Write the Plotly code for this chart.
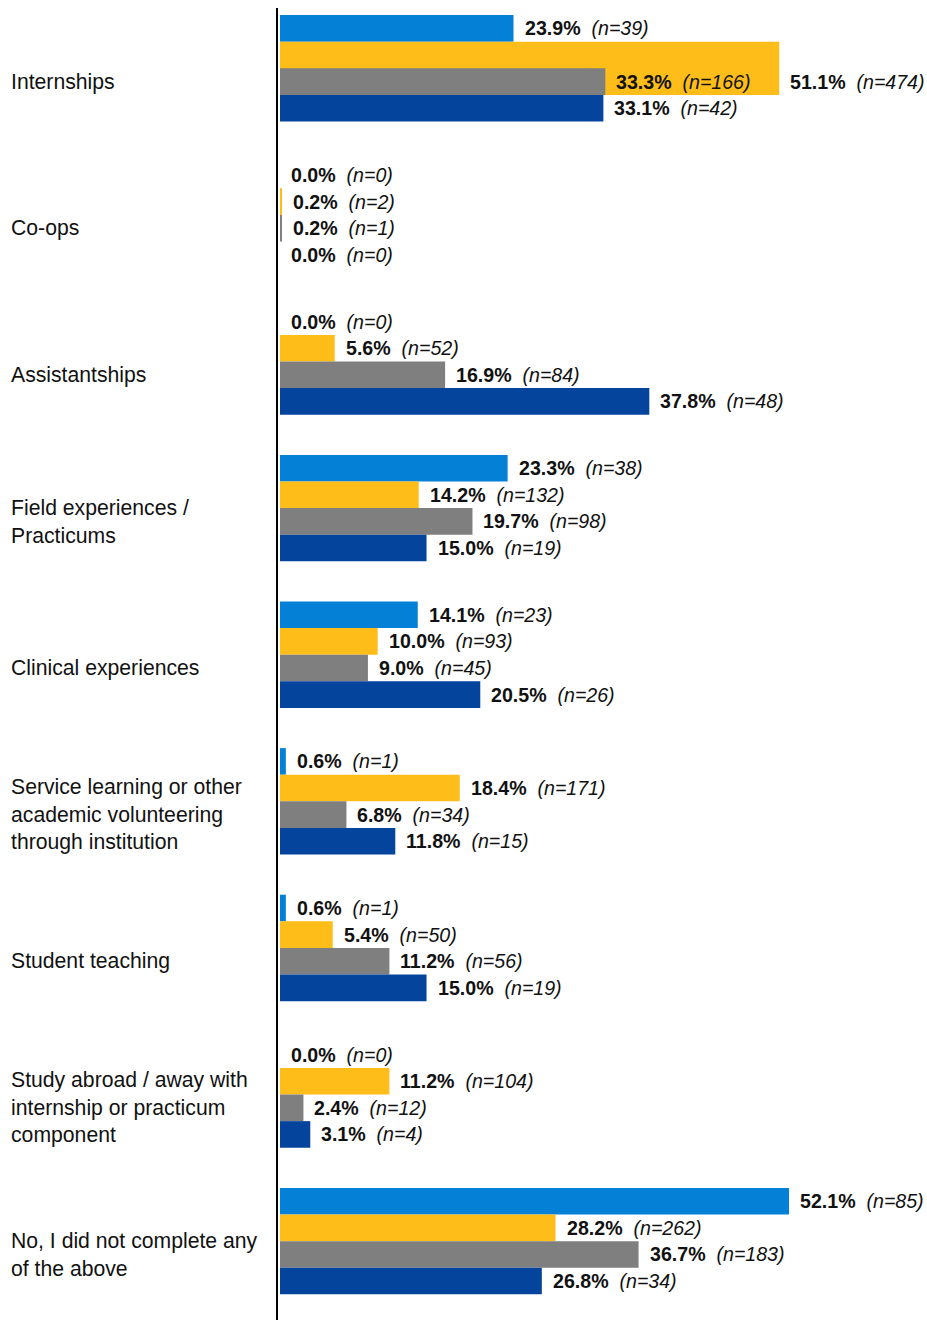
import plotly.graph_objects as go

# Response categories, top to bottom (line breaks for wrapped labels)
categories = [
    "Internships",
    "Co-ops",
    "Assistantships",
    "Field experiences /<br>Practicums",
    "Clinical experiences",
    "Service learning or other<br>academic volunteering<br>through institution",
    "Student teaching",
    "Study abroad / away with<br>internship or practicum<br>component",
    "No, I did not complete any<br>of the above",
]

# Percent of respondents and counts for each of the four groups
group1_pct = [23.9, 0.0, 0.0, 23.3, 14.1, 0.6, 0.6, 0.0, 52.1]
group1_n = [39, 0, 0, 38, 23, 1, 1, 0, 85]

group2_pct = [51.1, 0.2, 5.6, 14.2, 10.0, 18.4, 5.4, 11.2, 28.2]
group2_n = [474, 2, 52, 132, 93, 171, 50, 104, 262]

group3_pct = [33.3, 0.2, 16.9, 19.7, 9.0, 6.8, 11.2, 2.4, 36.7]
group3_n = [166, 1, 84, 98, 45, 34, 56, 12, 183]

group4_pct = [33.1, 0.0, 37.8, 15.0, 20.5, 11.8, 15.0, 3.1, 26.8]
group4_n = [42, 0, 48, 19, 26, 15, 19, 4, 34]

series = [
    ("Group 1", group1_pct, group1_n, "#0580D7"),
    ("Group 2", group2_pct, group2_n, "#FFBD19"),
    ("Group 3", group3_pct, group3_n, "#7F7F7F"),
    ("Group 4", group4_pct, group4_n, "#05449C"),
]

# Styling / geometry
FONT = "Liberation Sans, Arial, sans-serif"
ROW = 0.1815                      # thickness of one bar, in category units
ROW_SPAN = {(0, 1): 2}            # (category, series) -> bar spans two rows
LABEL_SHIFT = 11                  # px gap between bar end and its label

fig = go.Figure()
annotations = []
positions = list(range(len(categories)))

for k, (name, pct, counts, color) in enumerate(series):
    base_off = -2 * ROW + k * ROW
    widths = [ROW * ROW_SPAN.get((i, k), 1) for i in positions]
    offsets = [base_off] * len(positions)
    fig.add_trace(go.Bar(
        name=name,
        orientation="h",
        y=positions,
        x=pct,
        offset=offsets,
        width=widths,
        marker=dict(color=color, line=dict(width=0)),
        showlegend=False,
        hoverinfo="skip",
    ))
    for i in positions:
        # label sits in the centre of the bar's last row
        label_y = i + offsets[i] + widths[i] - ROW / 2
        annotations.append(dict(
            x=pct[i], y=label_y, xref="x", yref="y",
            xanchor="left", yanchor="middle", xshift=LABEL_SHIFT,
            text=f"<b>{pct[i]:.1f}%</b>\u00a0\u00a0<i>(n={counts[i]})</i>",
            showarrow=False, borderpad=0, borderwidth=0,
            font=dict(family=FONT, size=19.6, color="#111111"),
        ))

# Category labels, left aligned in the margin
MARGIN_L = 278
PLOT_W = 927 - MARGIN_L
for i, cat in enumerate(categories):
    annotations.append(dict(
        x=(11 - MARGIN_L) / PLOT_W, y=i + ROW / 2, xref="paper", yref="y",
        xanchor="left", yanchor="middle", align="left",
        text=cat, showarrow=False, borderpad=0, borderwidth=0,
        font=dict(family=FONT, size=21.2, color="#111111"),
    ))

PX_PER_PCT = 9.77
x_min = -2 / PX_PER_PCT
x_max = x_min + PLOT_W / PX_PER_PCT

fig.update_layout(
    width=927, height=1320,
    margin=dict(l=MARGIN_L, r=0, t=8, b=0),
    barmode="overlay",
    plot_bgcolor="white", paper_bgcolor="white",
    font=dict(family=FONT, size=20, color="#111111"),
    annotations=annotations,
    xaxis=dict(range=[x_min, x_max], visible=False, fixedrange=True),
    yaxis=dict(
        range=[8.538, -0.4113],
        showticklabels=False, ticks="", showgrid=False, zeroline=False,
        showline=True, linecolor="black", linewidth=2,
        fixedrange=True,
    ),
)

fig.write_html("out.html")
